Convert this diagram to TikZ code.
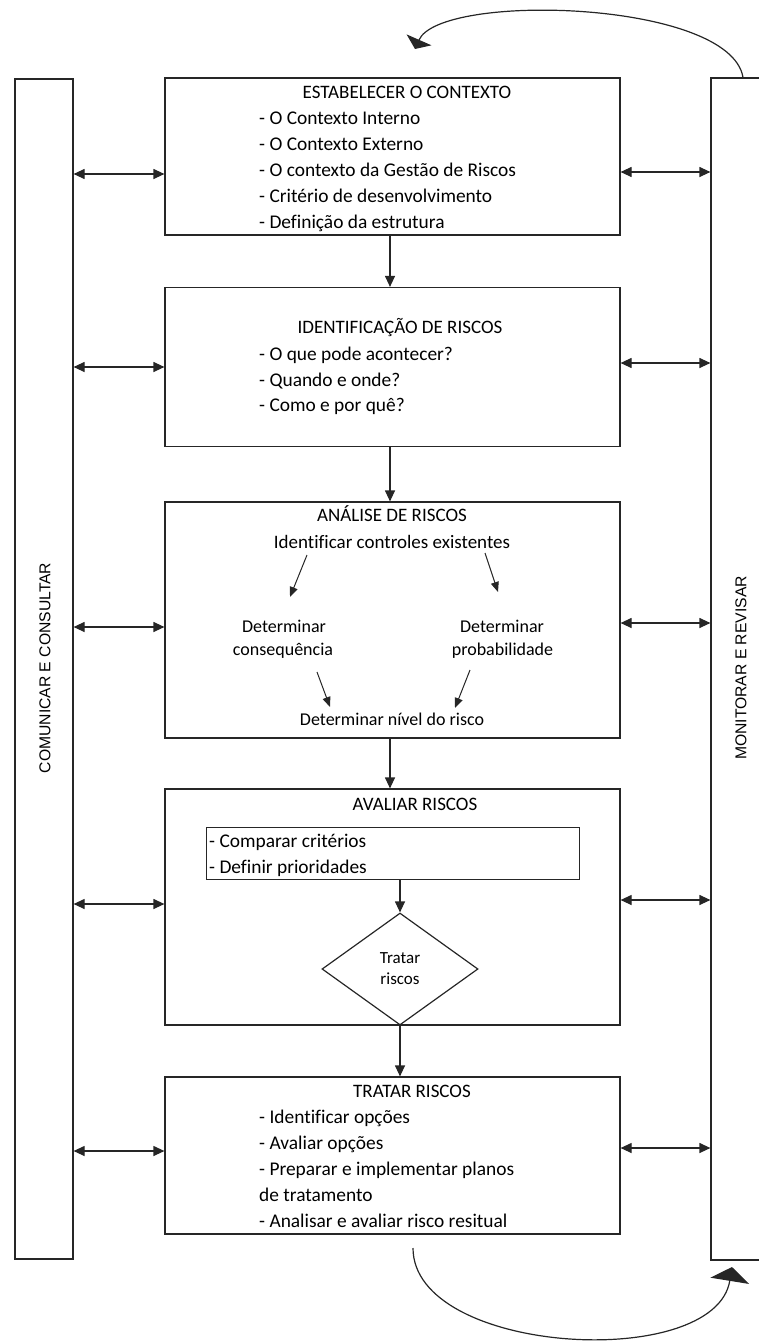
\documentclass[tikz,border=0pt]{standalone}
\usepackage{fontspec}
\setmainfont{Carlito}[Ligatures={NoCommon}]
\newfontfamily\arialf{Liberation Sans}
\usetikzlibrary{arrows.meta,shapes.geometric}
\begin{document}
\begin{tikzpicture}[x=1pt,y=-1pt,
  ln/.style={line width=1.2pt, draw=black!85},
  bx/.style={ln, rectangle, inner sep=0pt},
  tx/.style={font=\fontsize{19.4}{23}\selectfont, inner sep=0pt, anchor=base west},
  tc/.style={font=\fontsize{19}{23}\selectfont, inner sep=0pt, anchor=base},
  ts/.style={font=\fontsize{18}{22}\selectfont, inner sep=0pt, anchor=base},
  ar/.style={ln, -{Triangle[length=11pt,width=10pt]}},
  dar/.style={ln, {Triangle[length=11pt,width=10pt]}-{Triangle[length=11pt,width=10pt]}},
  sar/.style={line width=1pt, draw=black!85, -{Triangle[length=10pt,width=8pt]}},
  collab/.style={font=\arialf\fontsize{15.7}{18}\selectfont, inner sep=0pt, rotate=90},
]
\useasboundingbox (0,0) rectangle (758,1341);

% side columns
\node[bx, minimum width=58pt, minimum height=1180pt] (lcol) at (44,669) {};
\node[bx, minimum width=60pt, minimum height=1182pt] (rcol) at (741,669) {};
\node[collab] (lcoltxt) at (45,668) {COMUNICAR E CONSULTAR};
\node[collab] (rcoltxt) at (741,668) {MONITORAR E REVISAR};

% boxes
\node[bx, minimum width=455pt, minimum height=157pt] (b1) at (392.5,156.5) {};
\node[bx, minimum width=455pt, minimum height=159pt] (b2) at (392.5,367) {};
\node[bx, minimum width=455pt, minimum height=236pt] (b3) at (392.5,620) {};
\node[bx, minimum width=455pt, minimum height=236pt] (b4) at (392.5,907) {};
\node[bx, minimum width=455pt, minimum height=157pt] (b5) at (392.5,1155.5) {};

% box 1
\node[tc] (b1t) at (407,98.3) {ESTABELECER O CONTEXTO};
\node[tx] (b1a) at (259,124.3) {- O Contexto Interno};
\node[tx] (b1b) at (259,150.3) {- O Contexto Externo};
\node[tx] (b1c) at (259,176.3) {- O contexto da Gestão de Riscos};
\node[tx] (b1d) at (259,202.3) {- Critério de desenvolvimento};
\node[tx] (b1e) at (259,228.3) {- Definição da estrutura};

% box 2
\node[tc] (b2t) at (400,333.3) {IDENTIFICAÇÃO DE RISCOS};
\node[tx] (b2a) at (259,360) {- O que pode acontecer?};
\node[tx] (b2b) at (259,386) {- Quando e onde?};
\node[tx] (b2c) at (259,411.7) {- Como e por quê?};

% box 3
\node[tc] (b3t) at (392,521.7) {ANÁLISE DE RISCOS};
\node[tc] (b3a) at (392,548) {Identificar controles existentes};
\node[ts] (b3l1) at (284,632) {Determinar};
\node[ts] (b3l2) at (283,655.7) {consequência};
\node[ts] (b3r1) at (502,632) {Determinar};
\node[ts] (b3r2) at (502.5,655.7) {probabilidade};
\node[ts] (b3n) at (392,725) {Determinar nível do risco};
\coordinate (s1a) at (307,555); \coordinate (s1b) at (290,597);
\coordinate (s2a) at (485,553); \coordinate (s2b) at (498,592);
\coordinate (s3a) at (317,672); \coordinate (s3b) at (330,707);
\coordinate (s4a) at (470,670); \coordinate (s4b) at (455,708);
\draw[sar] (s1a) -- (s1b);
\draw[sar] (s2a) -- (s2b);
\draw[sar] (s3a) -- (s3b);
\draw[sar] (s4a) -- (s4b);

% box 4
\node[tc] (b4t) at (415,810) {AVALIAR RISCOS};
\node[line width=1pt, draw=black!85, rectangle, inner sep=0pt, minimum width=373pt, minimum height=52pt] (inner) at (392.5,853) {};
\node[tx] (b4a) at (209,847.7) {- Comparar critérios};
\node[tx] (b4b) at (209,873) {- Definir prioridades};
\node[ln, diamond, inner sep=0pt, minimum width=156pt, minimum height=112pt, align=center,
      font=\fontsize{17}{21}\selectfont] (dia) at (400,969) {Tratar\\riscos};

% box 5
\node[tc] (b5t) at (412,1097) {TRATAR RISCOS};
\node[tx] (b5a) at (259,1123) {- Identificar opções};
\node[tx] (b5b) at (259,1149) {- Avaliar opções};
\node[tx] (b5c) at (259,1175) {- Preparar e implementar planos};
\node[tx] (b5d) at (259,1201) {de tratamento};
\node[tx] (b5e) at (259,1227.4) {- Analisar e avaliar risco resitual};

% vertical flow
\draw[ar] (b1.south -| 390,0) -- (b2.north -| 390,0);
\draw[ar] (b2.south -| 390,0) -- (b3.north -| 390,0);
\draw[ar] (b3.south -| 390,0) -- (b4.north -| 390,0);
\draw[ar] (inner.south -| dia.north) -- (dia.north);
\draw[ar] (dia.south) -- (b5.north -| dia.south);

% left double arrows
\draw[dar] (lcol.east |- 0,174) -- (b1.west |- 0,174);
\draw[dar] (lcol.east |- 0,367) -- (b2.west |- 0,367);
\draw[dar] (lcol.east |- 0,627) -- (b3.west |- 0,627);
\draw[dar] (lcol.east |- 0,904) -- (b4.west |- 0,904);
\draw[dar] (lcol.east |- 0,1151) -- (b5.west |- 0,1151);
% right double arrows
\draw[dar] (b1.east |- 0,172) -- (rcol.west |- 0,172);
\draw[dar] (b2.east |- 0,363) -- (rcol.west |- 0,363);
\draw[dar] (b3.east |- 0,623) -- (rcol.west |- 0,623);
\draw[dar] (b4.east |- 0,900) -- (rcol.west |- 0,900);
\draw[dar] (b5.east |- 0,1148) -- (rcol.west |- 0,1148);

% loop arcs
\coordinate (topstart) at (rcol.north -| 743,0);
\coordinate (tophead) at (415,49);
\draw[ln, -{Triangle[length=10pt,width=27pt]}] (topstart) .. controls (730,0) and (440,-8) .. (tophead);
\coordinate (botstart) at (413,1248);
\coordinate (bothead) at (732,1267);
\draw[ln, -{Triangle[length=14pt,width=39pt]}] (botstart) .. controls (413,1355) and (715,1372) .. (bothead);
\end{tikzpicture}
\end{document}
